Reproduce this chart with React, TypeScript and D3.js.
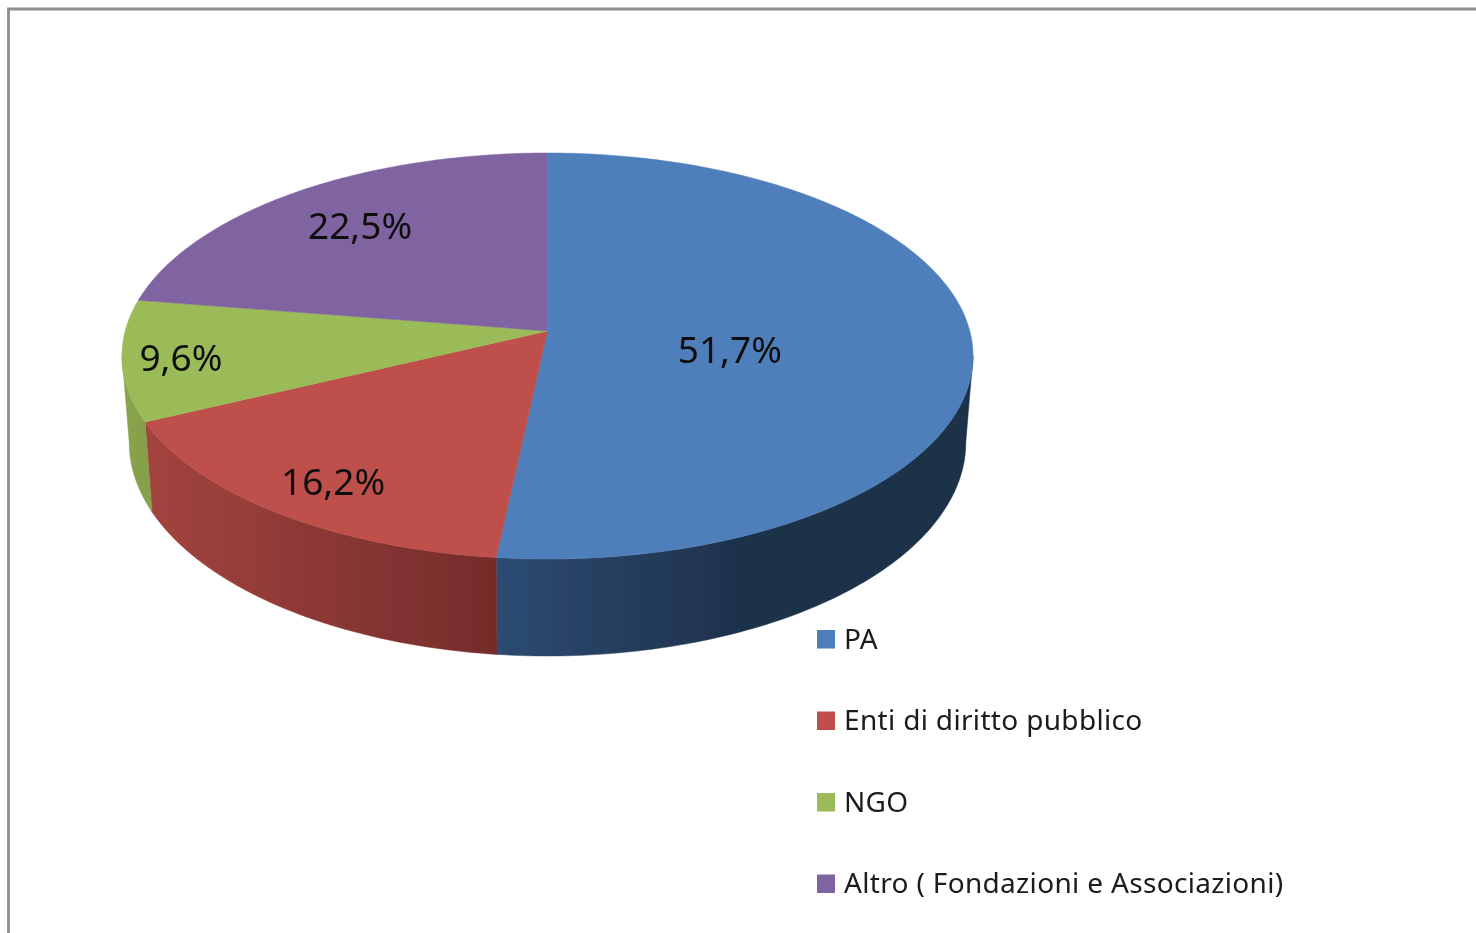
import React from "react";
import * as d3 from "d3";

const categories = ["PA", "Enti di diritto pubblico", "NGO", "Altro ( Fondazioni e Associazioni)"];
const values = [51.7, 16.2, 9.6, 22.5];
const labels = ["51,7%", "16,2%", "9,6%", "22,5%"];
const topColors = ["#4f7fba", "#bf4f4b", "#9bbb59", "#8063a1"];
const sideStops = [
  ["#2d4b72", "#1d3049"],
  ["#a3443f", "#742c2b"],
  ["#8ba34e", "#84a04a"],
  ["#5f4a78", "#5f4a78"],
];
const labelRadius = [0.437, 0.833, 0.864, 0.735];
const labelAngleOffset = [9.3, -1.4, -0.5, 0.3];

const cx = 547.5;
const apexY = 331;
const yScale = 159.15;
const xScale = 422.3;
const persp = -0.1232;
const depth = 85;
const baseShrink = 0.983;

const project = (theta: number, r = 1, top = true): [number, number] => {
  const u = r * Math.sin(theta);
  const v = -r * Math.cos(theta);
  const w = 1 + persp * v;
  const x = cx + ((top ? 1 : baseShrink) * xScale * u) / w;
  const y = (yScale * v + apexY + (top ? 0 : depth)) / w;
  return [x, y];
};

const pieData = d3.pie<number>().sort(null).startAngle(0).endAngle(2 * Math.PI)(values);
const line = d3.line();

const sample = (a0: number, a1: number, top: boolean) => {
  const n = Math.max(2, Math.ceil(Math.abs(a1 - a0) * 60));
  return d3.range(n + 1).map((i) => project(a0 + ((a1 - a0) * i) / n, 1, top));
};

const visFrom = (97 * Math.PI) / 180;
const visTo = (263 * Math.PI) / 180;

const FONT = "'Noto Sans', sans-serif";

export default function App() {
  const sides = pieData
    .map((d, i) => {
      const a0 = Math.max(d.startAngle, visFrom);
      const a1 = Math.min(d.endAngle, visTo);
      if (a1 <= a0) return null;
      const outerTop = sample(a0, a1, true);
      const outerBottom = sample(a0, a1, false);
      const xs = [...outerTop, ...outerBottom].map((p) => p[0]);
      return {
        i,
        path: line([...outerTop, ...outerBottom.reverse()]) + "Z",
        x0: d3.min(xs) as number,
        x1: d3.max(xs) as number,
      };
    })
    .filter(Boolean) as { i: number; path: string; x0: number; x1: number }[];

  return (
    <svg
      width={1476}
      height={933}
      viewBox="0 0 1476 933"
      style={{ position: "absolute", left: 0, top: 0, display: "block", background: "#fff" }}
    >
      <defs>
        <filter id="soft" x="-5%" y="-5%" width="110%" height="110%">
          <feGaussianBlur stdDeviation="0.6" />
        </filter>
        {sides.map((s) => (
          <linearGradient
            key={s.i}
            id={`side${s.i}`}
            gradientUnits="userSpaceOnUse"
            x1={s.x0}
            x2={s.i === 0 ? s.x0 + 260 : s.x1}
            y1={0}
            y2={0}
          >
            <stop offset="0" stopColor={sideStops[s.i][0]} />
            <stop offset="1" stopColor={sideStops[s.i][1]} />
          </linearGradient>
        ))}
      </defs>
      <g filter="url(#soft)">
        <path d="M8.5,933V9H1476" fill="none" stroke="#8f8f8f" strokeWidth={2.8} />
        {sides.map((s) => (
          <path
            key={s.i}
            d={s.path}
            fill={`url(#side${s.i})`}
            stroke={`url(#side${s.i})`}
            strokeWidth={0.5}
          />
        ))}
        {pieData.map((d, i) => (
          <path
            key={i}
            d={line([[cx, apexY], ...sample(d.startAngle, d.endAngle, true)]) + "Z"}
            fill={topColors[i]}
            stroke={topColors[i]}
            strokeWidth={0.5}
          />
        ))}
        {pieData.map((d, i) => {
          const mid = (d.startAngle + d.endAngle) / 2 + (labelAngleOffset[i] * Math.PI) / 180;
          const [x, y] = project(mid, labelRadius[i]);
          return (
            <text
              key={i}
              x={x}
              y={y - 1.5}
              textAnchor="middle"
              dominantBaseline="central"
              fontFamily={FONT}
              fontSize={37}
              fill="#111"
            >
              {labels[i]}
            </text>
          );
        })}
        {categories.map((c, i) => {
          const rowY = 630 + i * 81.5;
          return (
            <g key={c}>
              <rect x={817} y={rowY} width={18} height={18.5} fill={topColors[i]} />
              <text
                x={844}
                y={rowY + 18.5}
                fontFamily={FONT}
                fontSize={28}
                letterSpacing={0.33}
                fill="#1a1a1a"
              >
                {c}
              </text>
            </g>
          );
        })}
      </g>
    </svg>
  );
}
